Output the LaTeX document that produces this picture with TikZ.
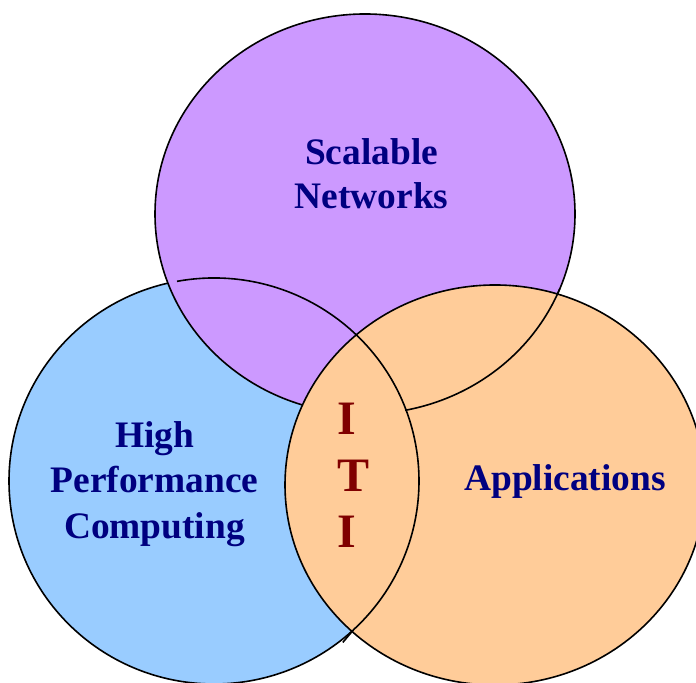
\documentclass[tikz,border=0pt]{standalone}
\usepackage{fontspec}
\setmainfont{Liberation Serif}
\definecolor{bluefill}{HTML}{99CCFF}
\definecolor{purplefill}{HTML}{CC99FF}
\definecolor{orangefill}{HTML}{FFCC99}
\definecolor{navytext}{HTML}{000080}
\definecolor{maroontext}{HTML}{800000}
\begin{document}
\begin{tikzpicture}[x=0.5pt,y=0.5pt,line width=0.8pt,
  setshape/.style={draw=black},
  lbl/.style={text=navytext,font=\bfseries\fontsize{18.7}{22}\selectfont,inner sep=0pt,anchor=base},
  itilbl/.style={text=maroontext,font=\bfseries\fontsize{24}{28}\selectfont,inner sep=0pt,anchor=base west}]
\useasboundingbox (0,0) rectangle (696,683);
% sets
\filldraw[setshape,fill=bluefill] (214,202) ellipse [x radius=205, y radius=203];
\filldraw[setshape,fill=purplefill] (365,469) ellipse [x radius=210, y radius=200];
\filldraw[setshape,fill=orangefill] (495,198) ellipse [x radius=210, y radius=200];
% redrawn hidden outlines
\draw (214,202) ++(100.4:205 and 203) arc[start angle=100.4, end angle=-47, x radius=205, y radius=203] -- ++(-11,-13);
\draw (365,469) ++(-79:210 and 200) arc[start angle=-79, end angle=-22, x radius=210, y radius=200];
% labels
\node[lbl] (scal) at (371.5,518.4) {Scalable};
\node[lbl] (netw) at (371.5,474.8) {Networks};
\node[lbl] (high) at (154.5,235) {High};
\node[lbl] (perf) at (154.5,190) {Performance};
\node[lbl] (comp) at (154.5,144) {Computing};
\node[lbl] (appl) at (565,192) {Applications};
\node[itilbl] (itiA) at (337,248) {I};
\node[itilbl] (itiB) at (337,191.5) {T};
\node[itilbl] (itiC) at (337,135.5) {I};
\end{tikzpicture}
\end{document}
